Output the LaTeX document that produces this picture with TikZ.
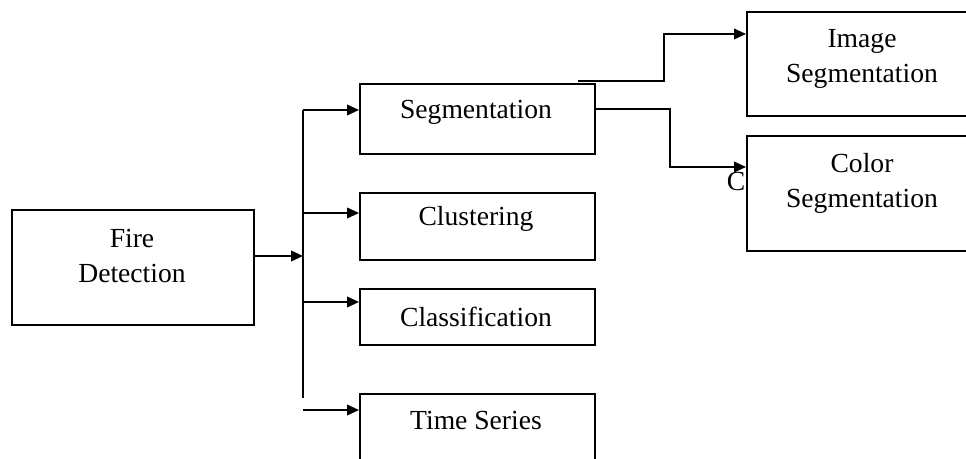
\documentclass[tikz,border=0pt]{standalone}
\usepackage{fontspec}
\setmainfont{Liberation Serif}
\usetikzlibrary{arrows.meta,positioning,calc}
\tikzset{
  blk/.style ={draw=black,line width=1.2pt,anchor=north west,inner sep=0pt},
  lbl/.style ={font=\fontsize{20.7}{26.25}\selectfont,align=center,inner sep=0pt},
  sig/.style ={-{Triangle[length=9pt,width=8pt]},draw=black,line width=1.2pt},
  trunk/.style={draw=black,line width=1.2pt},
}

\begin{document}
\begin{tikzpicture}[x=0.75pt,y=-0.75pt]
\clip (0,0) rectangle (966,459);
\fill[white] (0,0) rectangle (966,459);

% main box on the left
\node[blk,minimum width=242pt*0.75,minimum height=115pt*0.75] (fire) at (11,209) {};
\node[lbl] (fireT) at (132,256) {Fire\\ Detection};

% second column
\node[blk,minimum width=235pt*0.75,minimum height=70pt*0.75] (seg) at (359,83)  {};
\node[blk,minimum width=235pt*0.75,minimum height=67pt*0.75] (clu) at (359,192) {};
\node[blk,minimum width=235pt*0.75,minimum height=56pt*0.75] (cla) at (359,288) {};
\node[blk,minimum width=235pt*0.75,minimum height=90pt*0.75] (tser) at (359,393) {};
\node[lbl] (segT)  at (476,112) {Segmentation};
\node[lbl] (cluT)  at (476,219) {Clustering};
\node[lbl] (claT)  at (476,317) {Classification};
\node[lbl] (tserT) at (476,420) {Time Series};

% third column, cut at the right edge
\node[blk,minimum width=232pt*0.75,minimum height=104pt*0.75] (imgseg) at (746,11)  {};
\node[blk,minimum width=232pt*0.75,minimum height=115pt*0.75] (colseg) at (746,135) {};
\node[lbl] (imgsegT) at (862,59)  {Image\\ Segmentation};
\node[lbl] (colsegT) at (862,183) {Color\\ Segmentation};
\node[lbl] (stray)   at (736,181) {C};

% trunk and branches
\coordinate (tTop) at (303,110);
\coordinate (tBot) at (303,398);
\coordinate (tFire) at (303,256);
\coordinate (tClu) at (303,213);
\coordinate (tCla) at (303,302);
\coordinate (tSer) at (303,410);
\draw[sig] (fire.east |- tFire) -- (tFire);
\draw[trunk] (tTop) -- (tBot);
\draw[sig] (tTop) -- (tTop -| seg.west);
\draw[sig] (tClu) -- (tClu -| clu.west);
\draw[sig] (tCla) -- (tCla -| cla.west);
\draw[sig] (tSer) -- (tSer -| tser.west);

% from segmentation to the two kinds
\coordinate (s1) at (578,81);
\coordinate (b1) at (664,34);
\coordinate (s2) at (594,109);
\coordinate (b2) at (670,167);
\draw[sig] (s1) -| (b1) -- (b1 -| imgseg.west);
\draw[sig] (s2) -| (b2) -- (b2 -| colseg.west);
\end{tikzpicture}
\end{document}
